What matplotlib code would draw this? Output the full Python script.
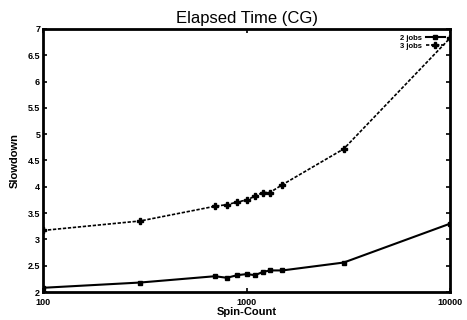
import matplotlib
matplotlib.use("Agg")
import matplotlib.pyplot as plt
from matplotlib.ticker import FixedLocator, NullLocator, FixedFormatter

spin_count = [100, 300, 700, 800, 900, 1000, 1100, 1200, 1300, 1500, 3000, 10000]
jobs2 = [2.08, 2.18, 2.30, 2.27, 2.32, 2.34, 2.32, 2.38, 2.41, 2.41, 2.56, 3.30]
jobs3 = [3.17, 3.35, 3.63, 3.66, 3.71, 3.75, 3.82, 3.89, 3.89, 4.04, 4.72, 6.83]

y_ticks = [2, 2.5, 3, 3.5, 4, 4.5, 5, 5.5, 6, 6.5, 7]
x_ticks = [100, 1000, 10000]

plt.rcParams["font.family"] = ["Liberation Sans", "DejaVu Sans"]

fig = plt.figure(figsize=(4.67, 3.2), dpi=100)
ax = fig.add_axes([0.092, 0.0875, 0.872, 0.822])

ax.plot(spin_count, jobs2, color="black", linewidth=1.5, marker="s",
        markersize=3.5, label="2 jobs")
ax.plot(spin_count, jobs3, color="black", linewidth=1.2, linestyle=(0, (2, 1)),
        marker="P", markersize=4.5, label="3 jobs")

ax.set_xscale("log")
ax.set_xlim(100, 10000)
ax.set_ylim(2, 7)
ax.xaxis.set_major_locator(FixedLocator(x_ticks))
ax.xaxis.set_major_formatter(FixedFormatter([str(t) for t in x_ticks]))
ax.xaxis.set_minor_locator(NullLocator())
ax.set_yticks(y_ticks)
ax.set_yticklabels([f"{t:g}" for t in y_ticks])

ax.tick_params(direction="in", length=3, width=1.2, labelsize=6.5,
               top=True, right=True, pad=2)
ax.tick_params(axis="x", pad=4)
for lbl in ax.get_xticklabels() + ax.get_yticklabels():
    lbl.set_fontweight("bold")
for s in ax.spines.values():
    s.set_linewidth(2)

ax.set_title("Elapsed Time (CG)", fontsize=12, pad=4)
ax.set_xlabel("Spin-Count", fontsize=8, fontweight="bold", labelpad=0)
ax.set_ylabel("Slowdown", fontsize=8, fontweight="bold", labelpad=6)

leg = ax.legend(loc="upper right", frameon=False, markerfirst=False,
                prop={"size": 5.5, "weight": "bold"}, handlelength=2.5,
                borderaxespad=0.3, labelspacing=0.1, handletextpad=0.5)

fig.savefig("out.png", dpi=100)
